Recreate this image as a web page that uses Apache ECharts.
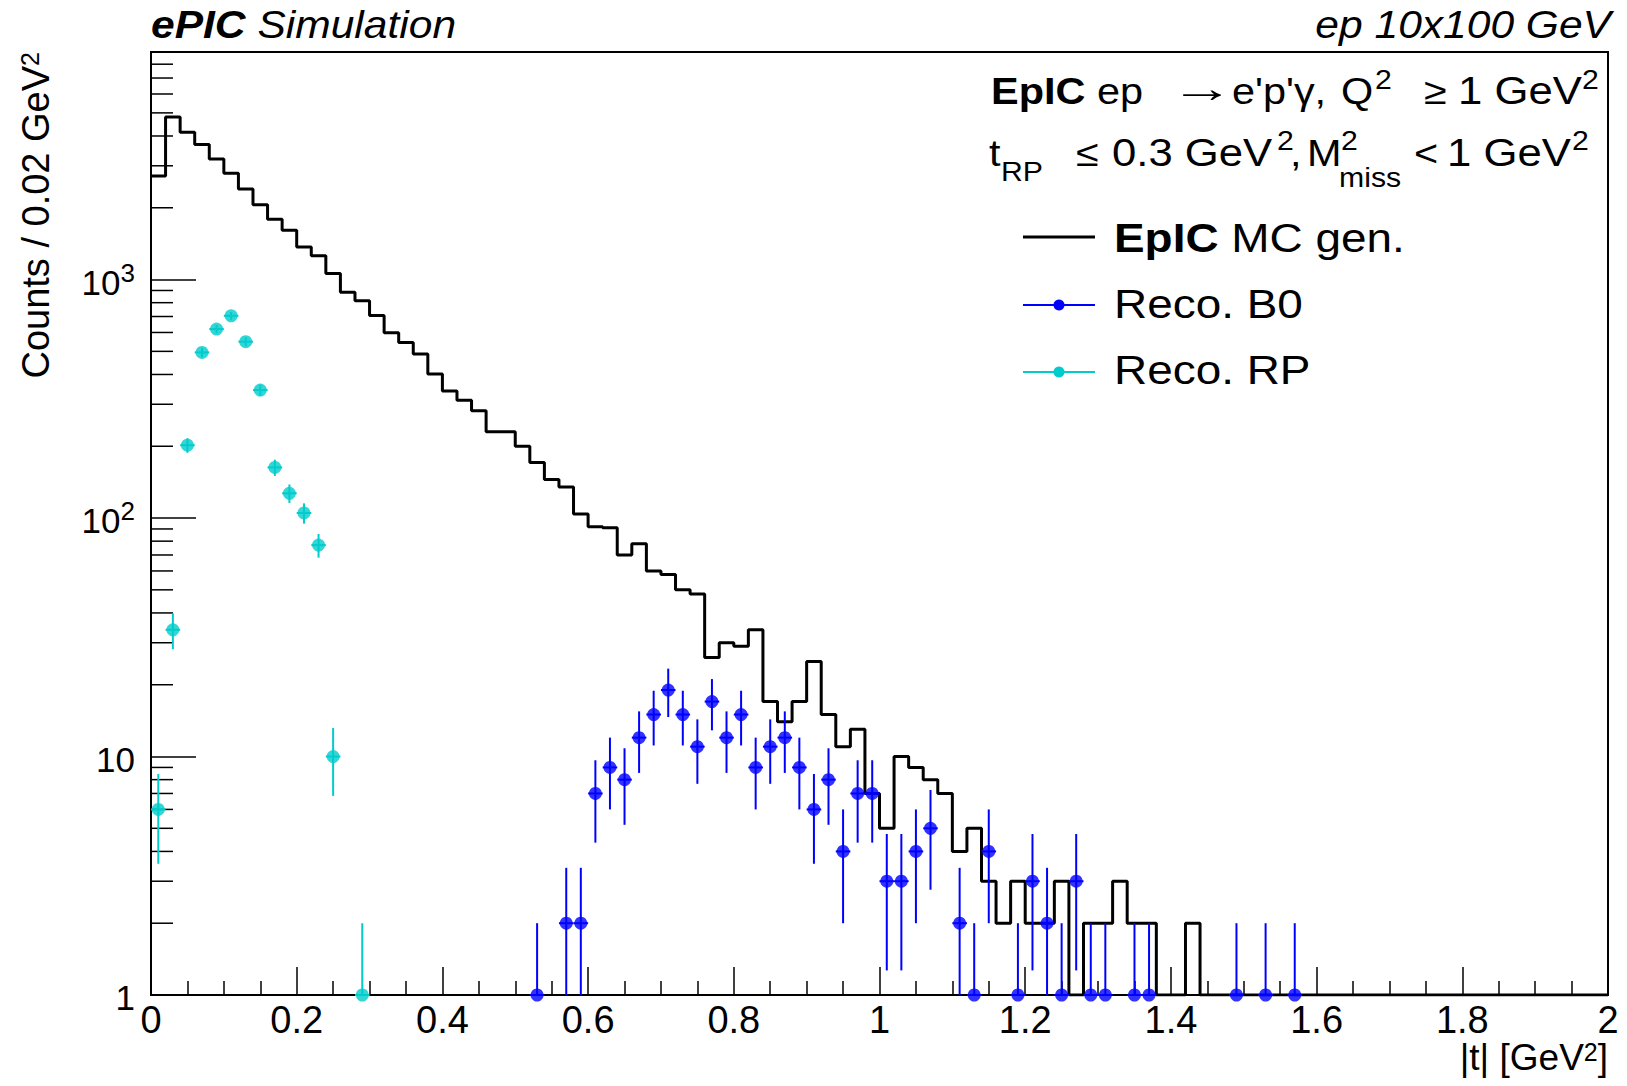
<!DOCTYPE html>
<html>
<head>
<meta charset="utf-8">
<title>ePIC Simulation - |t| distribution</title>
<script src="https://cdn.jsdelivr.net/npm/echarts@6/dist/echarts.min.js"></script>
<style>
  html, body { margin: 0; padding: 0; background: #ffffff; }
  #main { width: 1627px; height: 1086px; }
</style>
</head>
<body>
<div id="main"></div>
<script>
// ---------------- data ----------------
// EpIC MC generated histogram: 100 bins of 0.02 GeV^2 from 0 to 2
const binWidth = 0.02;
const mcGenCounts = [
  2720, 4800, 4150, 3680, 3200, 2790, 2400, 2060, 1790, 1610,
  1370, 1260, 1060, 884, 815, 707, 598, 545, 487, 402,
  341, 312, 282, 230, 230, 200, 171, 145, 135, 104,
  92, 91, 70, 78, 60, 58, 50, 48, 26, 30,
  29, 34, 17, 14, 17, 25, 15, 11, 13, 7,
  5, 10, 9, 8, 7, 4, 5, 3, 2, 3,
  2, 2, 3, 0, 2, 2, 3, 2, 2, 0,
  0, 2, 0, 0, 0, 0, 0, 0, 0, 0,
  0, 0, 0, 0, 0, 0, 0, 0, 0, 0,
  0, 0, 0, 0, 0, 0, 0, 0, 0, 0
];
// Reco. B0 (bin centres, counts)
const b0T = [0.53, 0.57, 0.59, 0.61, 0.63, 0.65, 0.67, 0.69, 0.71, 0.73, 0.75, 0.77, 0.79, 0.81,
  0.83, 0.85, 0.87, 0.89, 0.91, 0.93, 0.95, 0.97, 0.99, 1.01, 1.03, 1.05, 1.07, 1.11, 1.13, 1.15,
  1.19, 1.21, 1.23, 1.25, 1.27, 1.29, 1.31, 1.35, 1.37, 1.49, 1.53, 1.57];
const b0Counts = [1, 2, 2, 7, 9, 8, 12, 15, 19, 15, 11, 17, 12, 15,
  9, 11, 12, 9, 6, 8, 4, 7, 7, 3, 3, 4, 5, 2, 1, 4,
  1, 3, 2, 1, 3, 1, 1, 1, 1, 1, 1, 1];
// Reco. RP (bin centres, counts)
const rpT = [0.01, 0.03, 0.05, 0.07, 0.09, 0.11, 0.13, 0.15, 0.17, 0.19, 0.21, 0.23, 0.25, 0.29];
const rpCounts = [6, 34, 202, 495, 620, 705, 549, 344, 163, 127, 105, 77, 10, 1];
// axes
const xMin = 0, xMax = 2, xInterval = 0.2;
const yMin = 1, yMax = 9000;
const yMajorDecades = [1, 10, 100, 1000];
const yMinorMultipliers = [2, 3, 4, 5, 6, 7, 8, 9];

// ---------------- styles ----------------
const FONT = 'Liberation Sans, Arial, Helvetica, sans-serif';
const BLACK = '#000000';
const BLUE = '#0000ff';
const CYAN = '#00cccc';
const SX = 1.12; // horizontal text stretch seen in the reference

// ---------------- derived ----------------
const histPoints = mcGenCounts.map((c, i) => [+(i * binWidth).toFixed(4), Math.max(c, yMin)]);
histPoints.push([xMax, Math.max(mcGenCounts[mcGenCounts.length - 1], yMin)]);
const b0Data = b0T.map((t, i) => [t, b0Counts[i]]);
const rpData = rpT.map((t, i) => [t, rpCounts[i]]);
const minorTicks = [];
yMajorDecades.forEach(d => yMinorMultipliers.forEach(m => { if (m * d < yMax) minorTicks.push([xMin, m * d]); }));

function errorBarRenderer(color) {
  return function (params, api) {
    const t = api.value(0), v = api.value(1);
    const e = Math.sqrt(v);
    const lo = Math.max(v - e, yMin), hi = v + e;
    const p1 = api.coord([t, lo]), p2 = api.coord([t, hi]);
    const h1 = api.coord([t - binWidth / 2, v]), h2 = api.coord([t + binWidth / 2, v]);
    return {
      type: 'group',
      children: [
        { type: 'line', shape: { x1: p1[0], y1: p1[1], x2: p2[0], y2: p2[1] }, style: { stroke: color, lineWidth: 2 } },
        { type: 'line', shape: { x1: h1[0], y1: h1[1], x2: h2[0], y2: h2[1] }, style: { stroke: color, lineWidth: 2 } }
      ]
    };
  };
}

function txt(x, y, text, size, extra, sx) {
  return {
    type: 'text', x: x, y: y, scaleX: sx || SX, z: 100,
    style: Object.assign({ text: text, fontSize: size, fontFamily: FONT, fill: BLACK, align: 'left', verticalAlign: 'middle' }, extra || {})
  };
}

const chart = echarts.init(document.getElementById('main'), null, { renderer: 'svg', width: 1627, height: 1086 });

const option = {
  animation: false,
  backgroundColor: '#ffffff',
  textStyle: { fontFamily: FONT, color: BLACK },
  grid: { left: 151, top: 52, width: 1457, height: 943, show: true, borderColor: BLACK, borderWidth: 2, backgroundColor: 'transparent', containLabel: false },
  xAxis: {
    type: 'value', min: xMin, max: xMax, interval: xInterval,
    name: '|t| [GeV{s|2}]',
    nameLocation: 'end', nameGap: 0, nameMoveOverlap: false,
    nameTextStyle: {
      fontSize: 37, fontFamily: FONT, color: BLACK, align: 'right', verticalAlign: 'top', padding: [44, 0, 0, 0],
      rich: { s: { fontSize: 25, fontFamily: FONT, color: BLACK, verticalAlign: 'top', lineHeight: 12 } }
    },
    axisLine: { show: true, onZero: false, lineStyle: { color: BLACK, width: 2 } },
    axisTick: { show: true, inside: true, length: 28, lineStyle: { color: BLACK, width: 1.5 } },
    minorTick: { show: true, splitNumber: 4, length: 14, lineStyle: { color: BLACK, width: 1.5 } },
    splitLine: { show: false },
    minorSplitLine: { show: false },
    axisLabel: { fontSize: 38, fontFamily: FONT, color: BLACK, margin: 6, showMinLabel: true, showMaxLabel: true }
  },
  yAxis: {
    type: 'log', logBase: 10, min: yMin, max: yMax,
    name: 'Counts / 0.02 GeV{s|2}',
    nameLocation: 'end', nameGap: 0, nameRotate: 90, nameMoveOverlap: false,
    nameTextStyle: {
      fontSize: 38, fontFamily: FONT, color: BLACK, align: 'right', verticalAlign: 'bottom', padding: [0, 0, 96, 0],
      rich: { s: { fontSize: 25, fontFamily: FONT, color: BLACK, verticalAlign: 'top', lineHeight: 14 } }
    },
    axisLine: { show: true, onZero: false, lineStyle: { color: BLACK, width: 2 } },
    axisTick: { show: true, inside: true, length: 45, lineStyle: { color: BLACK, width: 1.5 } },
    minorTick: { show: false },
    splitLine: { show: false },
    axisLabel: {
      margin: 16, showMaxLabel: false, showMinLabel: true,
      formatter: function (v) {
        const e = Math.round(Math.log10(v));
        if (Math.abs(v - Math.pow(10, e)) > 1e-6 * v) return '';
        if (e === 0) return '{b|1}';
        if (e === 1) return '{b|10}';
        return '{b|10}{s|' + e + '}';
      },
      rich: {
        b: { fontSize: 35, fontFamily: FONT, color: BLACK, lineHeight: 40, verticalAlign: 'bottom' },
        s: { fontSize: 26, fontFamily: FONT, color: BLACK, lineHeight: 40, verticalAlign: 'top' }
      }
    }
  },
  series: [
    {
      name: 'y minor ticks', type: 'custom', silent: true, clip: false, z: 1,
      data: minorTicks,
      renderItem: function (params, api) {
        const p = api.coord([api.value(0), api.value(1)]);
        return { type: 'line', shape: { x1: p[0], y1: p[1], x2: p[0] + 22, y2: p[1] }, style: { stroke: BLACK, lineWidth: 1.5 } };
      }
    },
    {
      name: 'EpIC MC gen.', type: 'line', step: 'end', data: histPoints, showSymbol: false, symbol: 'none',
      lineStyle: { color: BLACK, width: 3 }, clip: true, z: 2, silent: true
    },
    {
      name: 'Reco. B0 errors', type: 'custom', data: b0Data, renderItem: errorBarRenderer(BLUE), z: 3, silent: true, clip: false
    },
    {
      name: 'Reco. B0', type: 'scatter', data: b0Data, symbol: 'circle', symbolSize: 13,
      itemStyle: { color: BLUE }, z: 4, silent: true, clip: false
    },
    {
      name: 'Reco. RP errors', type: 'custom', data: rpData, renderItem: errorBarRenderer(CYAN), z: 3, silent: true, clip: false
    },
    {
      name: 'Reco. RP', type: 'scatter', data: rpData, symbol: 'circle', symbolSize: 13,
      itemStyle: { color: CYAN }, z: 4, silent: true, clip: false
    }
  ],
  graphic: [
    // top-left label
    {
      type: 'text', x: 151, y: 25, scaleX: SX, z: 100,
      style: {
        text: '{b|ePIC} {i|Simulation}', fontSize: 38, fontFamily: FONT, fill: BLACK, align: 'left', verticalAlign: 'middle',
        rich: {
          b: { fontSize: 38, fontFamily: FONT, fontWeight: 'bold', fontStyle: 'italic', fill: BLACK },
          i: { fontSize: 38, fontFamily: FONT, fontStyle: 'italic', fill: BLACK }
        }
      }
    },
    // top-right label
    {
      type: 'text', x: 1611, y: 25, scaleX: SX, z: 100,
      style: { text: 'ep 10x100 GeV', fontSize: 38, fontFamily: FONT, fontStyle: 'italic', fill: BLACK, align: 'right', verticalAlign: 'middle' }
    },
    // header line 1
    txt(991, 91, 'EpIC', 37, { fontWeight: 'bold' }),
    txt(1097, 91, 'ep', 37),
    txt(1170, 88, '\u2192', 40, null, 1.6),
    txt(1232, 91, "e'p'\u03b3,", 37),
    txt(1341, 91, 'Q', 37),
    txt(1375, 80, '2', 27),
    txt(1424, 91, '\u2265', 37),
    txt(1458, 91, '1 GeV', 39),
    txt(1582, 80, '2', 27),
    // header line 2
    txt(989, 153, 't', 37),
    txt(1001, 172, 'RP', 27),
    txt(1076, 153, '\u2264', 37),
    txt(1112, 153, '0.3 GeV', 39),
    txt(1277, 141, '2', 27),
    txt(1290, 153, ',', 37),
    txt(1307, 153, 'M', 37),
    txt(1341, 141, '2', 27),
    txt(1339, 178, 'miss', 27),
    txt(1414, 153, '<', 37),
    txt(1447, 153, '1 GeV', 39),
    txt(1572, 141, '2', 27),
    // legend samples
    { type: 'line', z: 100, shape: { x1: 1023, y1: 237, x2: 1095, y2: 237 }, style: { stroke: BLACK, lineWidth: 3 } },
    { type: 'line', z: 100, shape: { x1: 1023, y1: 305, x2: 1095, y2: 305 }, style: { stroke: BLUE, lineWidth: 2 } },
    { type: 'circle', z: 101, shape: { cx: 1059, cy: 305, r: 5.5 }, style: { fill: BLUE } },
    { type: 'line', z: 100, shape: { x1: 1023, y1: 372, x2: 1095, y2: 372 }, style: { stroke: CYAN, lineWidth: 2 } },
    { type: 'circle', z: 101, shape: { cx: 1059, cy: 372, r: 5.5 }, style: { fill: CYAN } },
    // legend texts
    {
      type: 'text', x: 1114, y: 238, scaleX: SX, z: 100,
      style: {
        text: '{b|EpIC} {n|MC gen.}', fontSize: 41, fontFamily: FONT, fill: BLACK, align: 'left', verticalAlign: 'middle',
        rich: {
          b: { fontSize: 41, fontFamily: FONT, fontWeight: 'bold', fill: BLACK },
          n: { fontSize: 41, fontFamily: FONT, fill: BLACK }
        }
      }
    },
    txt(1114, 304, 'Reco. B0', 41),
    txt(1114, 370, 'Reco. RP', 41)
  ]
};

chart.setOption(option);
</script>
</body>
</html>
